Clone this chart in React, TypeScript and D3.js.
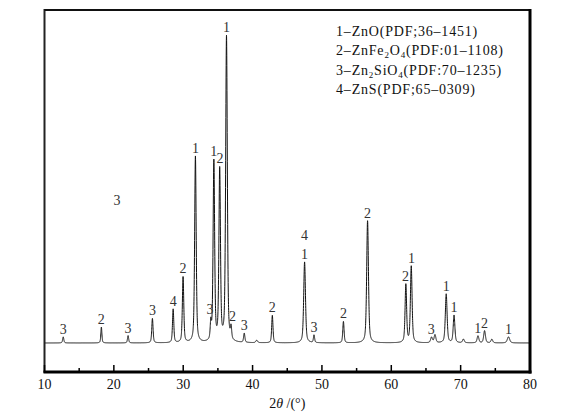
import React from 'react'
import * as d3 from 'd3'

// peak list: 2θ (°), relative intensity, FWHM (°)
const peakPos = [12.7, 18.2, 22.05, 25.56, 28.55, 29.98, 31.76, 33.98, 34.42, 35.26, 36.24, 36.9, 38.8, 40.6, 42.85, 47.5, 48.86, 53.1, 56.58, 62.1, 62.88, 65.8, 66.3, 67.92, 69.05, 70.4, 72.5, 73.45, 74.5, 76.9]
const peakHeight = [2.0, 5.2, 2.4, 8.0, 11.0, 21.5, 61, 5.5, 59, 56, 100, 3.8, 3.0, 0.8, 9.0, 26.5, 2.5, 7.0, 40, 19, 25, 1.8, 2.6, 16, 9.0, 1.2, 2.3, 4.0, 1.2, 2.0]
const peakWidth = [0.2, 0.18, 0.2, 0.22, 0.22, 0.24, 0.26, 0.2, 0.26, 0.26, 0.28, 0.2, 0.22, 0.3, 0.22, 0.3, 0.2, 0.22, 0.3, 0.26, 0.28, 0.3, 0.3, 0.3, 0.28, 0.3, 0.3, 0.3, 0.3, 0.4]

// phase labels: 2θ where the label sits, phase number, stack level
const labelPos = [12.7, 18.2, 22.05, 25.56, 28.55, 29.98, 31.76, 33.85, 34.42, 35.32, 36.24, 37.1, 38.8, 42.85, 47.5, 47.5, 48.86, 53.1, 56.58, 62.05, 62.9, 65.75, 67.92, 69.05, 72.45, 73.45, 76.9]
const labelText = ['3', '2', '3', '3', '4', '2', '1', '3', '1', '2', '1', '2', '3', '2', '1', '4', '3', '2', '2', '2', '1', '3', '1', '1', '1', '2', '1']
const labelLevel = [0, 0, 0, 0, 0, 0, 0, 0, 0, 0, 0, 0, 0, 0, 0, 1, 0, 0, 0, 0, 0, 0, 0, 0, 0, 0, 0]

const legendPhase = ['1', '2', '3', '4']
const legendFormula = [
	[['Zn', false], ['O', false]],
	[['ZnFe', false], ['2', true], ['O', false], ['4', true]],
	[['Zn', false], ['2', true], ['SiO', false], ['4', true]],
	[['ZnS', false]],
]
const legendRef = ['(PDF;36–1451)', '(PDF:01–1108)', '(PDF:70–1235)', '(PDF;65–0309)']

const xTicks = [10, 20, 30, 40, 50, 60, 70, 80]
const xMinorTicks = [15, 25, 35, 45, 55, 65, 75]

const serif = '"Liberation Serif", "DejaVu Serif", serif'

const profile = (t: number) => {
	let s = 0
	for (let i = 0; i < peakPos.length; i++) {
		const u = (t - peakPos[i]) / peakWidth[i]
		const lor = 1 / (1 + 4 * u * u)
		const gau = Math.exp(-4 * Math.LN2 * u * u)
		s += peakHeight[i] * (0.5 * lor + 0.5 * gau)
	}
	return s
}

// highest point of the trace near a label
const localMax = (t: number) => d3.max(d3.range(t - 0.2, t + 0.2, 0.01), profile) as number

const App = () => {
	const width = 581,
		height = 418
	const left = 44.5,
		right = 530,
		top = 10,
		bottom = 372

	const x = d3.scaleLinear().domain([10, 80]).range([left, right])
	const y = d3.scaleLinear().domain([-9.5, 109]).range([bottom, top])

	const pts = d3.range(10, 80.0001, 0.01).map(t => [t, profile(t)] as [number, number])
	const line = d3
		.line<[number, number]>()
		.x(d => x(d[0]))
		.y(d => y(d[1]))

	return (
		<svg width={width} height={height} style={{ position: 'absolute', left: 0, top: 0, background: '#fff' }}>
			<path d={line(pts) || ''} fill="none" stroke="#111" strokeWidth={1} />

			{labelPos.map((p, i) => (
				<text
					key={'l' + i}
					x={x(p)}
					y={y(localMax(p)) - 3 - labelLevel[i] * 19}
					textAnchor="middle"
					fontFamily={serif}
					fontSize={14}
					fill="#333"
				>
					{labelText[i]}
				</text>
			))}

			{/* stray label in the empty area */}
			<text x={x(20.45)} y={y(45.2)} textAnchor="middle" fontFamily={serif} fontSize={14} fill="#333">
				3
			</text>

			<line x1={left} x2={left} y1={top - 1} y2={bottom + 1} stroke="#222" strokeWidth={2} />
			<line x1={left} x2={right} y1={top} y2={top} stroke="#111" strokeWidth={2} />
			<line x1={right} x2={right} y1={top - 1} y2={bottom + 1.5} stroke="#000" strokeWidth={3} />
			<line x1={left - 1} x2={right + 1.5} y1={bottom} y2={bottom} stroke="#000" strokeWidth={3} />

			{xTicks.map(t => (
				<g key={'t' + t}>
					<line x1={x(t)} x2={x(t)} y1={bottom} y2={bottom - 7} stroke="#000" strokeWidth={1.5} />
					<text x={x(t)} y={bottom + 17} textAnchor="middle" fontFamily={serif} fontSize={14} fill="#111">
						{t}
					</text>
				</g>
			))}
			{xMinorTicks.map(t => (
				<line key={'m' + t} x1={x(t)} x2={x(t)} y1={bottom} y2={bottom - 4} stroke="#000" strokeWidth={1.5} />
			))}

			<text x={(left + right) / 2} y={408} textAnchor="middle" fontFamily={serif} fontSize={14} fill="#111">
				2<tspan fontStyle="italic">θ</tspan> /(°)
			</text>

			{legendPhase.map((ph, i) => (
				<text key={'g' + i} x={336} y={36 + i * 19.3} fontFamily={serif} fontSize={14} fill="#111" letterSpacing={0.8}>
					{ph}–
					{legendFormula[i].map((s, j) =>
						s[1] ? (
							<tspan key={j} fontSize={9} dy={3}>
								{s[0] as string}
							</tspan>
						) : (
							<tspan key={j} fontSize={14} dy={j > 0 && legendFormula[i][j - 1][1] ? -3 : 0}>
								{s[0] as string}
							</tspan>
						)
					)}
					<tspan dy={legendFormula[i][legendFormula[i].length - 1][1] ? -3 : 0}>{legendRef[i]}</tspan>
				</text>
			))}
		</svg>
	)
}

export default App
